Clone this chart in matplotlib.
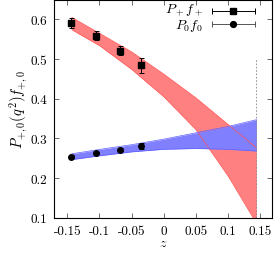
import numpy as np
import matplotlib
matplotlib.use("Agg")
import matplotlib.pyplot as plt

plt.rcParams['font.family'] = 'serif'
plt.rcParams['font.serif'] = ['cmr10', 'DejaVu Serif']
plt.rcParams['mathtext.fontset'] = 'cm'
plt.rcParams['axes.unicode_minus'] = False

# lattice points
z_pts = [-0.1435, -0.106, -0.0685, -0.035]
fp = [0.590, 0.559, 0.521, 0.484]
fp_err = [0.013, 0.012, 0.012, 0.018]
f0 = [0.254, 0.263, 0.2716, 0.2817]
f0_err = [0.003, 0.003, 0.003, 0.0075]

# fit bands
z_band = [-0.143, -0.1, -0.05, 0.0, 0.05, 0.1, 0.144]
fp_lo = [0.574, 0.534, 0.474, 0.405, 0.322, 0.205, 0.086]
fp_hi = [0.605, 0.565, 0.518, 0.462, 0.402, 0.335, 0.276]
f0_lo = [0.2465, 0.256, 0.266, 0.2725, 0.2745, 0.2725, 0.268]
f0_hi = [0.261, 0.272, 0.284, 0.298, 0.314, 0.330, 0.347]
z_max = 0.144

xticks = [-0.15, -0.1, -0.05, 0, 0.05, 0.1, 0.15]
xticklabels = ['-0.15', '-0.1', '-0.05', '0', '0.05', '0.1', '0.15']
yticks = [0.1, 0.2, 0.3, 0.4, 0.5, 0.6]
yticklabels = ['0.1', '0.2', '0.3', '0.4', '0.5', '0.6']
leg_labels = [r'$P_+f_+$', r'$P_0f_0$']

fig = plt.figure(figsize=(2.76, 2.55), dpi=100)
ax = fig.add_axes([0.197, 0.1424, 0.788, 0.8556])

ax.fill_between(z_band, fp_lo, fp_hi, color='#ff8080', lw=0)
ax.fill_between(z_band, f0_lo, f0_hi, color='#8080ff', lw=0)
ax.plot(z_band, fp_lo, color='#ff5050', lw=0.5)
ax.plot(z_band, fp_hi, color='#ff5050', lw=0.5)
ax.plot(z_band, f0_lo, color='#6060ff', lw=0.5)
ax.plot(z_band, f0_hi, color='#6060ff', lw=0.5)

ax.vlines(z_max, 0.1, 0.5, colors='#888888', linestyles=(0, (2, 2)), lw=0.6)

ax.errorbar(z_pts, fp, yerr=fp_err, fmt='s', color='black', ms=4.2,
            capsize=1.8, elinewidth=0.7, capthick=0.7)
ax.errorbar(z_pts, f0, yerr=f0_err, fmt='o', color='black', ms=4.0,
            capsize=1.8, elinewidth=0.7, capthick=0.7)

# legend, gnuplot style
leg_x0, leg_x1, leg_xm = 0.724, 0.922, 0.821
for yy, mk, col in [(0.949, 's', 'black'), (0.886, 'o', '#555555')]:
    ax.plot([leg_x0, leg_x1], [yy, yy], color=col, lw=0.7,
            transform=ax.transAxes, clip_on=False)
    ax.plot([leg_x0, leg_x1], [yy, yy], ls='none', marker='|', ms=4,
            mew=0.7, color=col, transform=ax.transAxes, clip_on=False)
    ax.plot([leg_xm], [yy], marker=mk, ms=4.2, color='black', ls='none',
            transform=ax.transAxes, clip_on=False)
ax.text(0.683, 0.9175, '\n'.join(leg_labels), transform=ax.transAxes,
        ha='right', va='center', multialignment='right', fontsize=10,
        linespacing=0.95)

ax.set_xlim(-0.170, 0.168)
ax.set_ylim(0.1, 0.65)
ax.set_xticks(xticks)
ax.set_xticklabels(xticklabels)
ax.set_yticks(yticks)
ax.set_yticklabels(yticklabels)
ax.tick_params(direction='in', length=3.5, width=0.6, color='#555555',
               top=True, right=True, labelsize=9.5, pad=5)
for s in ax.spines.values():
    s.set_linewidth(0.8)

ax.set_xlabel(r'$z$', fontsize=10, labelpad=0)
ax.set_ylabel(r'$P_{+,0}(q^2)f_{+,0}$', fontsize=10.5, labelpad=1)

fig.savefig("out.png", dpi=100)
